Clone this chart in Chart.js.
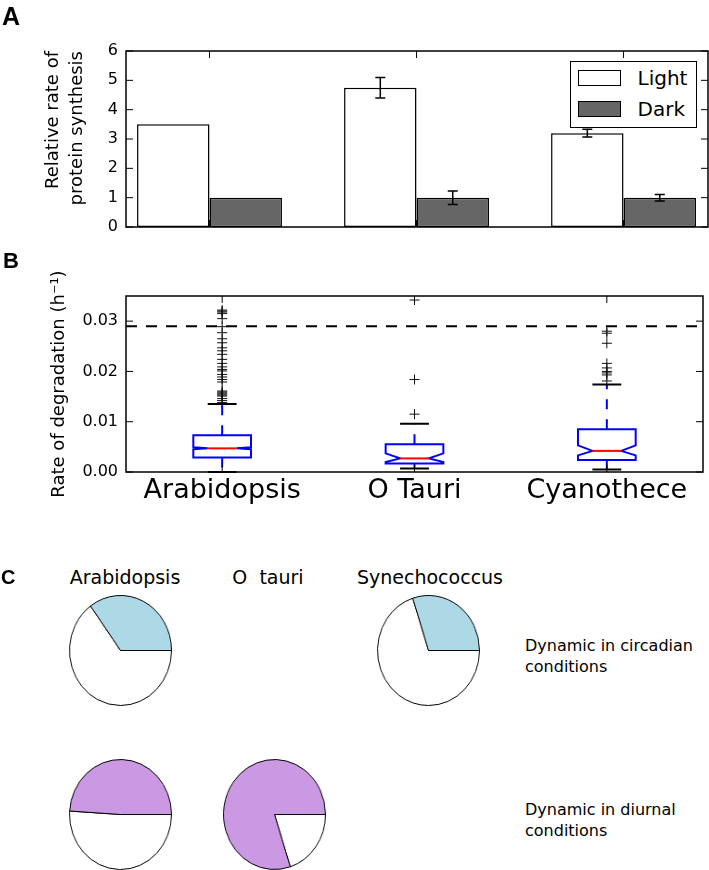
<!DOCTYPE html>
<html>
<head>
<meta charset="utf-8">
<script src="https://cdn.jsdelivr.net/npm/chart.js@4.4.1/dist/chart.umd.min.js"></script>
<style>
  html, body { margin: 0; padding: 0; background: #ffffff; }
  #wrap { position: relative; width: 709px; height: 870px; overflow: hidden; font-family: 'DejaVu Sans', sans-serif; color: #000; }
  .abs { position: absolute; }
  .letter { font-family: 'Liberation Sans', Arial, sans-serif; font-weight: bold; white-space: nowrap; }
  .txt { white-space: pre; }
  .pie { position: absolute; width: 115px; height: 115px; transform: scaleX(0.927); transform-origin: 50% 50%; }
</style>
</head>
<body>
<div id="wrap">
  <div class="abs" style="left:0;top:0;"><canvas id="chartA" width="709" height="240"></canvas></div>
  <div class="abs" style="left:0;top:240px;"><canvas id="chartB" width="709" height="270"></canvas></div>

  <div class="abs letter" style="left:2px;top:4px;font-size:25px;line-height:25px;">A</div>
  <div class="abs letter" style="left:3px;top:250px;font-size:22px;line-height:22px;">B</div>
  <div class="abs letter" style="left:1px;top:567px;font-size:20px;line-height:20px;">C</div>

  <div id="legendA" class="abs" style="left:570px;top:61px;width:125px;height:65px;border:1.5px solid #000;background:#fff;"></div>

  <div id="pieTitles"></div>
  <div id="pieRowsText"></div>
  <div id="pies"></div>
</div>

<script>
// ---------------- DATA ----------------
// Panel A
const speciesA = ['Arabidopsis', 'O Tauri', 'Cyanothece'];
const seriesNames = ['Light', 'Dark'];
const lightRate = [3.5, 4.75, 3.2];
const darkRate = [1.0, 1.0, 1.0];
const lightErr = [0, 0.35, 0.13];
const darkErr = [0, 0.23, 0.11];
const rateTicks = [0, 1, 2, 3, 4, 5, 6];

// Panel B
const boxCategories = ['Arabidopsis', 'O Tauri', 'Cyanothece'];
const boxWhiskerLow = [0.0000, 0.0007, 0.0005];
const boxQ1 = [0.0029, 0.0017, 0.0024];
const boxMedian = [0.0047, 0.0027, 0.0042];
const boxQ3 = [0.0073, 0.0055, 0.0085];
const boxNotchLow = [0.0045, 0.0020, 0.0033];
const boxNotchHigh = [0.0049, 0.0037, 0.0053];
const boxWhiskerHigh = [0.0135, 0.0096, 0.0174];
const outliersArabidopsis = [0.0322, 0.0320, 0.0318, 0.0315, 0.0305, 0.0289, 0.0277, 0.0265, 0.0257,
  0.0247, 0.0241, 0.0234, 0.0224, 0.0216, 0.0209, 0.0204, 0.0201, 0.0194, 0.0189, 0.0184, 0.0179,
  0.0161, 0.0159, 0.0157, 0.0155, 0.0153, 0.0151, 0.0146, 0.0142, 0.0138];
const outliersOTauri = [0.0342, 0.0184, 0.0115];
const outliersCyanothece = [0.0280, 0.0276, 0.0256, 0.0216, 0.0207, 0.0200, 0.0197, 0.0193, 0.0181];
const thresholdRate = 0.029;
const degradationTicks = [0, 0.01, 0.02, 0.03];

// Panel C (percent of proteins that are dynamic)
const pieSpecies = ['Arabidopsis', 'O  tauri', 'Synechococcus'];
const circadianDynamicPct = [35, null, 30];
const diurnalDynamicPct = [49, 80, null];
const pieRowLabels = [['Dynamic in circadian', 'conditions'], ['Dynamic in diurnal', 'conditions']];

// ---------------- STYLE / LAYOUT ----------------
Chart.defaults.font.family = "'DejaVu Sans', sans-serif";
Chart.defaults.color = '#000';
const lightColor = '#ffffff';
const darkColor = '#666666';
const circadianColor = '#add8e6';
const diurnalColor = '#cb98e4';

// frame + inward ticks (matplotlib style)
const framePlugin = {
  id: 'frame',
  afterDraw(chart) {
    const { ctx, chartArea: a, scales } = chart;
    const len = 7;
    ctx.save();
    ctx.strokeStyle = '#000';
    ctx.lineWidth = 1;
    ctx.beginPath();
    scales.y.ticks.forEach(t => {
      const p = scales.y.getPixelForValue(t.value);
      ctx.moveTo(a.left, p); ctx.lineTo(a.left + len, p);
      ctx.moveTo(a.right, p); ctx.lineTo(a.right - len, p);
    });
    scales.x.ticks.forEach(t => {
      const p = scales.x.getPixelForValue(t.value);
      ctx.moveTo(p, a.top); ctx.lineTo(p, a.top + len);
      ctx.moveTo(p, a.bottom); ctx.lineTo(p, a.bottom - len);
    });
    ctx.stroke();
    ctx.lineWidth = 1.5;
    ctx.strokeRect(a.left, a.top, a.right - a.left, a.bottom - a.top);
    ctx.restore();
  }
};

// error bars for panel A
const errorBarPlugin = {
  id: 'errorBars',
  afterDatasetsDraw(chart) {
    const { ctx } = chart;
    const y = chart.scales.y;
    ctx.save();
    ctx.strokeStyle = '#000';
    ctx.lineWidth = 1.5;
    chart.data.datasets.forEach((ds, di) => {
      const meta = chart.getDatasetMeta(di);
      meta.data.forEach((el, j) => {
        const e = ds.errors[j];
        if (!e) return;
        const v = ds.data[j].y;
        const top = y.getPixelForValue(v + e);
        const bot = y.getPixelForValue(v - e);
        ctx.beginPath();
        ctx.moveTo(el.x, top); ctx.lineTo(el.x, bot);
        ctx.moveTo(el.x - 5, top); ctx.lineTo(el.x + 5, top);
        ctx.moveTo(el.x - 5, bot); ctx.lineTo(el.x + 5, bot);
        ctx.stroke();
      });
    });
    ctx.restore();
  }
};

// notched boxes for panel B
const boxPlugin = {
  id: 'notchedBoxes',
  afterDatasetsDraw(chart) {
    const { ctx } = chart;
    const x = chart.scales.x, y = chart.scales.y;
    const unit = x.getPixelForValue(1) - x.getPixelForValue(0);
    const half = 0.15 * unit, ind = 0.075 * unit, cap = 0.075 * unit;
    const py = v => y.getPixelForValue(v);
    boxCategories.forEach((c, i) => {
      const cx = x.getPixelForValue(i + 1);
      const L = cx - half, R = cx + half;
      ctx.save();
      ctx.strokeStyle = '#0000ff';
      ctx.lineWidth = 2;
      ctx.setLineDash([10, 10]);
      ctx.beginPath();
      ctx.moveTo(cx, py(boxQ3[i])); ctx.lineTo(cx, py(boxWhiskerHigh[i]));
      ctx.stroke();
      ctx.beginPath();
      ctx.moveTo(cx, py(boxQ1[i])); ctx.lineTo(cx, py(boxWhiskerLow[i]));
      ctx.stroke();
      ctx.setLineDash([]);
      ctx.strokeStyle = '#000';
      ctx.lineWidth = 2;
      ctx.beginPath();
      ctx.moveTo(cx - cap, py(boxWhiskerHigh[i])); ctx.lineTo(cx + cap, py(boxWhiskerHigh[i]));
      ctx.moveTo(cx - cap, py(boxWhiskerLow[i])); ctx.lineTo(cx + cap, py(boxWhiskerLow[i]));
      ctx.stroke();
      ctx.strokeStyle = '#0000ff';
      ctx.fillStyle = '#ffffff';
      ctx.lineWidth = 2;
      ctx.beginPath();
      ctx.moveTo(L, py(boxQ1[i]));
      ctx.lineTo(L, py(boxNotchLow[i]));
      ctx.lineTo(L + ind, py(boxMedian[i]));
      ctx.lineTo(L, py(boxNotchHigh[i]));
      ctx.lineTo(L, py(boxQ3[i]));
      ctx.lineTo(R, py(boxQ3[i]));
      ctx.lineTo(R, py(boxNotchHigh[i]));
      ctx.lineTo(R - ind, py(boxMedian[i]));
      ctx.lineTo(R, py(boxNotchLow[i]));
      ctx.lineTo(R, py(boxQ1[i]));
      ctx.closePath();
      ctx.fill();
      ctx.stroke();
      ctx.strokeStyle = '#ff0000';
      ctx.beginPath();
      ctx.moveTo(L + ind, py(boxMedian[i])); ctx.lineTo(R - ind, py(boxMedian[i]));
      ctx.stroke();
      ctx.restore();
    });
  }
};

// ---------------- PANEL A ----------------
new Chart(document.getElementById('chartA'), {
  type: 'bar',
  data: {
    datasets: [
      { label: seriesNames[0], data: speciesA.map((s, i) => ({ x: i, y: lightRate[i] })), errors: lightErr,
        backgroundColor: lightColor, borderColor: '#000', borderWidth: 1.5, borderSkipped: false },
      { label: seriesNames[1], data: speciesA.map((s, i) => ({ x: i, y: darkRate[i] })), errors: darkErr,
        backgroundColor: darkColor, borderColor: '#000', borderWidth: 1.5, borderSkipped: false }
    ]
  },
  options: {
    responsive: false, animation: false, events: [],
    layout: { padding: { left: 0, right: 1, top: 51, bottom: 13 } },
    datasets: { bar: { categoryPercentage: 0.7, barPercentage: 1.0 } },
    plugins: { legend: { display: false }, tooltip: { enabled: false } },
    scales: {
      x: {
        type: 'linear', min: -0.4034, max: 2.408, offset: false,
        ticks: { display: false },
        grid: { display: false, drawTicks: false }, border: { display: false },
        afterBuildTicks: s => { s.ticks = speciesA.map((c, i) => ({ value: i })); },
        afterFit: s => { s.height = 0; s.paddingLeft = 0; s.paddingRight = 0; }
      },
      y: {
        min: 0, max: 6,
        grid: { display: false, drawTicks: false }, border: { display: false },
        afterBuildTicks: s => { s.ticks = rateTicks.map(v => ({ value: v })); },
        afterFit: s => { s.width = 126; s.paddingTop = 0; s.paddingBottom = 0; },
        ticks: { padding: 8, font: { size: 16 }, color: '#000' },
        title: { display: true, text: ['Relative rate of', 'protein synthesis'], align: 'end',
                 font: { size: 18, lineHeight: 1.3333 }, color: '#000', padding: { top: 41, bottom: 0 } }
      }
    }
  },
  plugins: [errorBarPlugin, framePlugin]
});

// legend (HTML, built from the series names)
(function () {
  const lg = document.getElementById('legendA');
  const fills = [lightColor, darkColor];
  seriesNames.forEach((n, i) => {
    const sw = document.createElement('div');
    sw.className = 'abs';
    sw.style.cssText = `left:6.5px;top:${7.5 + i * 31}px;width:41px;height:14px;border:1.5px solid #000;background:${fills[i]};`;
    lg.appendChild(sw);
    const t = document.createElement('div');
    t.className = 'abs txt';
    t.style.cssText = `left:66.5px;top:${5.5 + i * 31}px;font-size:20px;line-height:20px;`;
    t.textContent = n;
    lg.appendChild(t);
  });
})();

// ---------------- PANEL B ----------------
const outlierPoints = [];
[outliersArabidopsis, outliersOTauri, outliersCyanothece].forEach((arr, i) => {
  arr.forEach(v => outlierPoints.push({ x: i + 1, y: v }));
});

new Chart(document.getElementById('chartB'), {
  type: 'scatter',
  data: {
    datasets: [
      { type: 'line', label: 'threshold', data: [{ x: 0.5, y: thresholdRate }, { x: 3.5, y: thresholdRate }],
        borderColor: '#000', borderWidth: 2, borderDash: [11, 9], pointRadius: 0, showLine: true, fill: false },
      { label: 'outliers', data: outlierPoints, pointStyle: 'cross', pointRadius: 5,
        borderColor: '#111', backgroundColor: '#111', borderWidth: 1 }
    ]
  },
  options: {
    responsive: false, animation: false, events: [],
    layout: { padding: { left: 0, right: 1, top: 56, bottom: 0 } },
    plugins: { legend: { display: false }, tooltip: { enabled: false } },
    scales: {
      x: {
        type: 'linear', min: 0.5, max: 3.5,
        grid: { display: false, drawTicks: false }, border: { display: false },
        afterBuildTicks: s => { s.ticks = boxCategories.map((c, i) => ({ value: i + 1 })); },
        afterFit: s => { s.height = 38; s.paddingLeft = 0; s.paddingRight = 0; },
        ticks: { autoSkip: false, maxRotation: 0, padding: 3, font: { size: 27 }, color: '#000',
                 callback: v => boxCategories[Math.round(v) - 1] }
      },
      y: {
        min: 0, max: 0.035,
        grid: { display: false, drawTicks: false }, border: { display: false },
        afterBuildTicks: s => { s.ticks = degradationTicks.map(v => ({ value: v })); },
        afterFit: s => { s.width = 126; s.paddingTop = 0; s.paddingBottom = 0; },
        ticks: { padding: 8, font: { size: 16 }, color: '#000', callback: v => Number(v).toFixed(2) },
        title: { display: true, text: 'Rate of degradation (h\u207B\u00B9)', font: { size: 18 }, color: '#000',
                 padding: { top: 49, bottom: 0 } }
      }
    }
  },
  plugins: [boxPlugin, framePlugin]
});

// ---------------- PANEL C ----------------
const colCenters = [120.5, 274, 428];
const titleCenters = [125, 268, 430];
const rowCenters = [650, 814];

(function () {
  const tt = document.getElementById('pieTitles');
  pieSpecies.forEach((s, i) => {
    const d = document.createElement('div');
    d.className = 'abs txt';
    d.style.cssText = `left:${titleCenters[i] - 100}px;top:568px;width:200px;text-align:center;font-size:19px;line-height:19px;`;
    d.textContent = s;
    tt.appendChild(d);
  });
  const rt = document.getElementById('pieRowsText');
  pieRowLabels.forEach((lines, r) => {
    const d = document.createElement('div');
    d.className = 'abs txt';
    d.style.cssText = `left:525px;top:${rowCenters[r] - 15}px;font-size:16px;line-height:21px;`;
    d.textContent = lines.join('\n');
    rt.appendChild(d);
  });

  const piesDiv = document.getElementById('pies');
  const rows = [[circadianDynamicPct, circadianColor], [diurnalDynamicPct, diurnalColor]];
  rows.forEach(([vals, color], r) => {
    vals.forEach((pct, c) => {
      if (pct === null) return;
      const holder = document.createElement('div');
      holder.className = 'pie';
      holder.style.left = (colCenters[c] - 57.5) + 'px';
      holder.style.top = (rowCenters[r] - 57.5) + 'px';
      const cv = document.createElement('canvas');
      cv.width = 115; cv.height = 115;
      holder.appendChild(cv);
      piesDiv.appendChild(holder);
      new Chart(cv, {
        type: 'pie',
        data: {
          labels: ['not dynamic', 'dynamic'],
          datasets: [{ data: [100 - pct, pct], backgroundColor: ['#ffffff', color],
                       borderColor: '#000', borderWidth: 1 }]
        },
        options: {
          responsive: false, animation: false, events: [], rotation: 90,
          layout: { padding: 2 },
          plugins: { legend: { display: false }, tooltip: { enabled: false } }
        }
      });
    });
  });
})();
</script>
</body>
</html>
